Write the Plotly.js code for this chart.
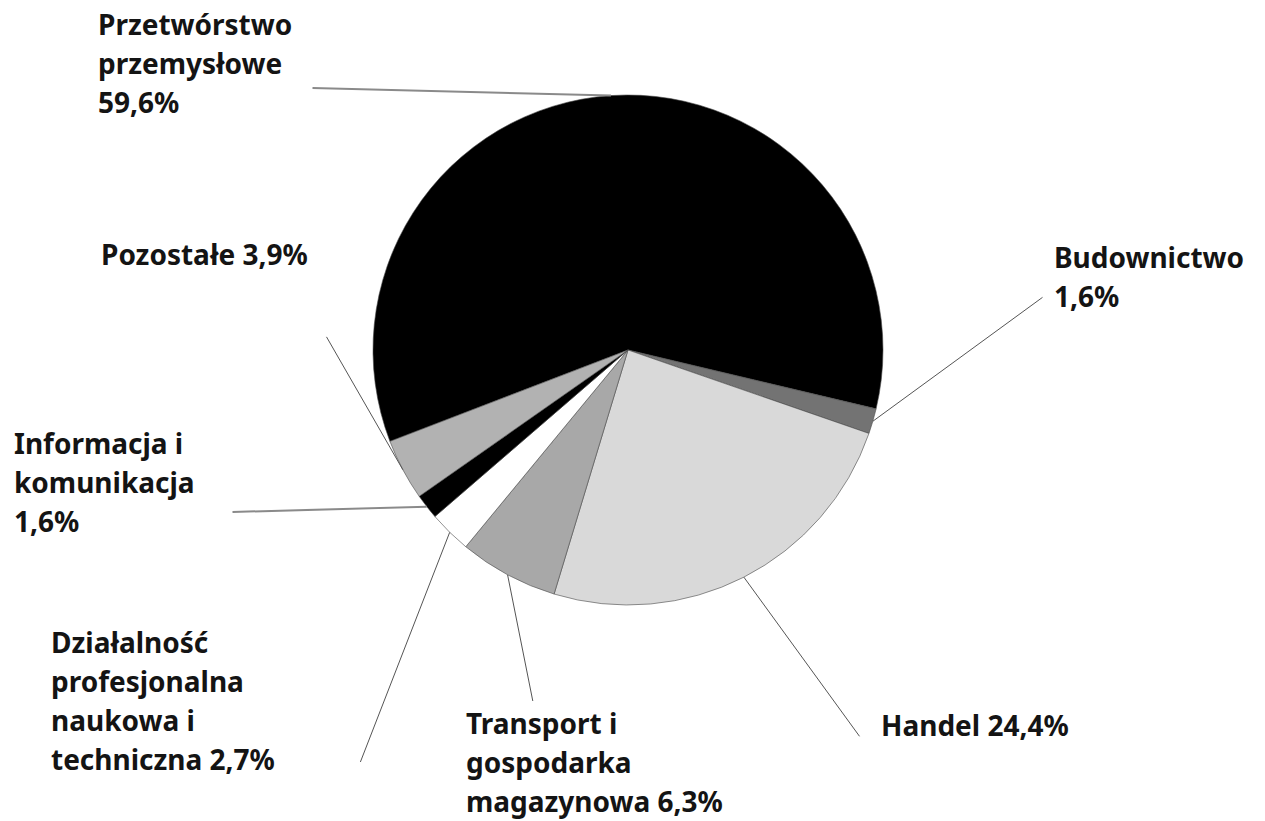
<!DOCTYPE html>
<html>
<head>
<meta charset="utf-8">
<script src="https://cdn.plot.ly/plotly-3.0.1.min.js"></script>
<style>
  html, body { margin: 0; padding: 0; background: #ffffff; }
  #chart { width: 1265px; height: 821px; }
</style>
</head>
<body>
<div id="chart"></div>
<script>
// ---------------- data ----------------
const categories = [
  'Przetwórstwo przemysłowe',
  'Budownictwo',
  'Handel',
  'Transport i gospodarka magazynowa',
  'Działalność profesjonalna naukowa i techniczna',
  'Informacja i komunikacja',
  'Pozostałe'
];
const shares = [59.6, 1.6, 24.4, 6.3, 2.7, 1.6, 3.9];
const shareLabels = ['59,6%', '1,6%', '24,4%', '6,3%', '2,7%', '1,6%', '3,9%'];
const labelLines = [
  ['Przetwórstwo', 'przemysłowe', '59,6%'],
  ['Budownictwo', '1,6%'],
  ['Handel 24,4%'],
  ['Transport i', 'gospodarka', 'magazynowa 6,3%'],
  ['Działalność', 'profesjonalna', 'naukowa i', 'techniczna 2,7%'],
  ['Informacja i', 'komunikacja', '1,6%'],
  ['Pozostałe 3,9%']
];
const sliceColors = ['#000000', '#737373', '#d9d9d9', '#a8a8a8', '#ffffff', '#000000', '#b2b2b2'];

// ---------------- layout (positions in px) ----------------
const W = 1265, H = 821;
const CX = 628, CY = 350, R = 255;
const ROTATION = 249;                 // start angle, clockwise from 12 o'clock
const FONT_SIZE = 28, LINE_STEP = 39, CAP_OFFSET = 11;
// label block left edge and cap-top of first line
const labelLeft = [97, 1053, 880, 465, 50, 13, 100];
const labelTop  = [15, 248, 716, 714, 633, 434, 245];
// leader line tail (end near the label)
const tailX = [312, 1043, 860, 533, 360, 232, 326];
const tailY = [88, 297, 737, 702, 763, 512, 336];
const leaderColor = ['#8a8a8a', '#555555', '#555555', '#555555', '#555555', '#8a8a8a', '#555555'];
const leaderWidth = [2, 1, 1, 1, 1, 2, 1];

const total = shares.reduce((a, b) => a + b, 0);

const trace = {
  type: 'pie',
  labels: categories,
  values: shares,
  sort: false,
  direction: 'clockwise',
  rotation: ROTATION,
  textinfo: 'none',
  hoverinfo: 'label+percent',
  marker: { colors: sliceColors, line: { color: '#4a4a4a', width: 0.6 } },
  domain: {
    x: [(CX - R) / W, (CX + R) / W],
    y: [(H - CY - R) / H, (H - CY + R) / H]
  },
  showlegend: false
};

const annotations = [];
let cum = 0;
for (let i = 0; i < shares.length; i++) {
  const mid = ROTATION + (cum + shares[i] / 2) / total * 360;
  cum += shares[i];
  const a = mid * Math.PI / 180;
  const tipX = CX + R * Math.sin(a);
  const tipY = CY - R * Math.cos(a);
  annotations.push({
    xref: 'paper', yref: 'paper',
    x: tipX / W, y: 1 - tipY / H,
    ax: tailX[i] - tipX, ay: tailY[i] - tipY,
    text: ' ', font: { size: 1 },
    showarrow: true, arrowhead: 0, arrowwidth: leaderWidth[i],
    arrowcolor: leaderColor[i], standoff: 0, startstandoff: 0, borderpad: 0
  });
  labelLines[i].forEach((line, k) => {
    const topPx = labelTop[i] + k * LINE_STEP - CAP_OFFSET;
    annotations.push({
      xref: 'paper', yref: 'paper',
      x: labelLeft[i] / W, y: 1 - topPx / H,
      xanchor: 'left', yanchor: 'top', align: 'left',
      text: line, showarrow: false, borderpad: 0,
      font: { family: 'Noto Sans, Open Sans, sans-serif', size: FONT_SIZE, color: '#141414', weight: 700 }
    });
  });
}

const layout = {
  width: W, height: H,
  margin: { l: 0, r: 0, t: 0, b: 0 },
  paper_bgcolor: '#ffffff',
  plot_bgcolor: '#ffffff',
  showlegend: false,
  annotations: annotations
};

Plotly.newPlot('chart', [trace], layout, { displayModeBar: false, staticPlot: true });
</script>
</body>
</html>
